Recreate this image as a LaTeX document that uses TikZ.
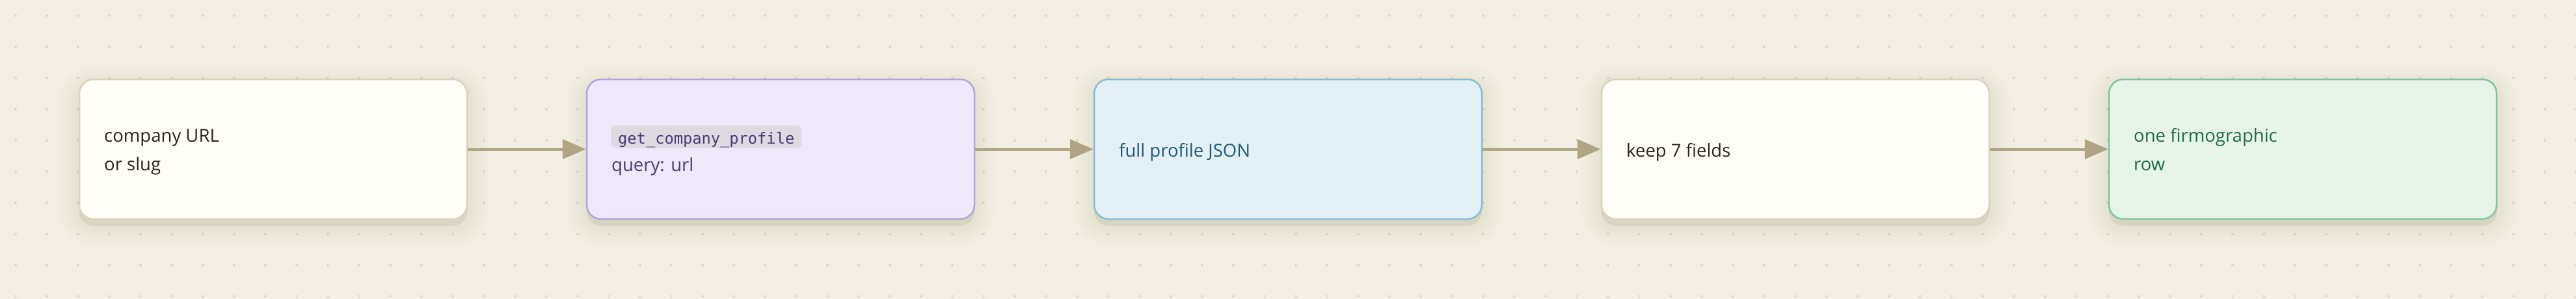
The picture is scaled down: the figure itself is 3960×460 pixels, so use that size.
\documentclass[tikz,border=0pt]{standalone}
\usepackage{fontspec}
\setmainfont{Open Sans}
\newfontfamily\monof{DejaVu Sans Mono}
\usetikzlibrary{arrows.meta}
\definecolor{bgc}{HTML}{F3EFE4}
\definecolor{dotc}{HTML}{DDD7C8}
\definecolor{shc}{HTML}{8A7850}
\definecolor{fillA}{HTML}{FEFDF7}
\definecolor{lineA}{HTML}{DCD1BA}
\definecolor{fillB}{HTML}{EEE9FA}
\definecolor{lineB}{HTML}{B3A3DD}
\definecolor{fillC}{HTML}{E3F0F5}
\definecolor{lineC}{HTML}{88BDD7}
\definecolor{fillE}{HTML}{E6F4E9}
\definecolor{lineE}{HTML}{80C69C}
\definecolor{arrc}{HTML}{B0A583}
\definecolor{chipc}{HTML}{DEDAE2}
\definecolor{txtA}{HTML}{2A2418}
\definecolor{txtB}{HTML}{4A3A78}
\definecolor{txtC}{HTML}{1E5A78}
\definecolor{txtE}{HTML}{1F6A47}
\tikzset{
  shlayer/.style={preaction={draw=shc, fill=shc, line width=#1, line join=round, opacity=0.016, transform canvas={yshift=-10pt}}},
  stagebox/.style={rounded corners=22pt, line width=2.5pt, minimum width=596pt, minimum height=215pt,
    shlayer=4pt, shlayer=14pt, shlayer=24pt, shlayer=34pt, shlayer=44pt, shlayer=54pt, shlayer=64pt},
  boxA/.style={stagebox, draw=lineA, fill=fillA},
  boxB/.style={stagebox, draw=lineB, fill=fillB},
  boxC/.style={stagebox, draw=lineC, fill=fillC},
  boxE/.style={stagebox, draw=lineE, fill=fillE},
  lbl/.style={inner sep=0pt, anchor=base west, font=\fontsize{27.5}{45}\selectfont},
  chip/.style={fill=chipc, rounded corners=8pt, inner xsep=11pt, inner ysep=0pt, minimum height=35pt,
    text height=22.4pt, text depth=0pt, anchor=west, text=txtB, font=\monof\fontsize{23.7}{28}\selectfont},
  conn/.style={draw=arrc, line width=4pt, -{Triangle[length=36pt, width=30pt]}},
}
\begin{document}
\begin{tikzpicture}[x=1pt, y=-1pt]
\useasboundingbox (0,0) rectangle (3960,460);
\fill[bgc] (0,0) rectangle (3960,460);
\foreach \i in {0,...,82} {
  \foreach \j in {0,...,9} {
    \fill[dotc] (24+48*\i, 24+48*\j) circle (2pt);
  }
}
\node[boxA] (b1) at (420,229.5) {};
\node[boxB] (b2) at (1200,229.5) {};
\node[boxC] (b3) at (1980,229.5) {};
\node[boxA] (b4) at (2760,229.5) {};
\node[boxE] (b5) at (3540,229.5) {};

\draw[conn] (b1.east) -- (b2.west);
\draw[conn] (b2.east) -- (b3.west);
\draw[conn] (b3.east) -- (b4.west);
\draw[conn] (b4.east) -- (b5.west);

\node[lbl, text=txtA] (t1a) at (160,218) {company URL};
\node[lbl, text=txtA] (t1b) at (160,262.5) {or slug};
\node[chip] (t2a) at (939,210.5) {get\_company\_profile};
\node[lbl, text=txtB] (t2b) at (940,263) {query: url};
\node[lbl, text=txtC] (t3) at (1720,241.5) {full profile JSON};
\node[lbl, text=txtA] (t4) at (2500,241.5) {keep 7 fields};
\node[lbl, text=txtE] (t5a) at (3280,218) {one firmographic};
\node[lbl, text=txtE] (t5b) at (3280,262.5) {row};
\end{tikzpicture}
\end{document}
